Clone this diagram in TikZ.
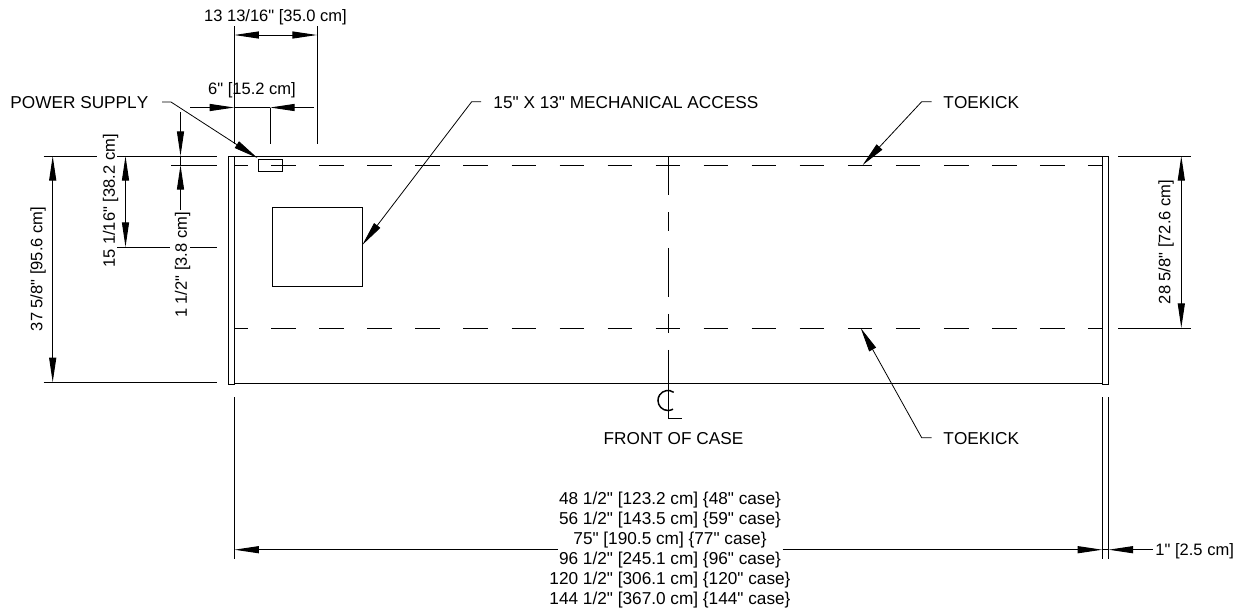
\documentclass[tikz,border=0pt]{standalone}
\usepackage{fontspec}
\newfontfamily\labelfont[Kerning=Off]{Liberation Sans}
\usetikzlibrary{arrows.meta}
\tikzstyle{every path}=[line width=0.55pt]
\tikzstyle{every node}=[inner sep=0pt, font=\labelfont\fontsize{9.4}{11.3}\selectfont]
\tikzstyle{note}=[font=\labelfont\fontsize{9.8}{11.8}\selectfont]
\tikzstyle{dimarrow}=[-{Triangle[length=14pt, width=4pt, sep=0pt]}]
\tikzstyle{leader}=[-{Triangle[length=14pt, width=4.4pt, sep=0pt]}, line width=0.45pt]
\tikzstyle{hiddenline}=[dash pattern=on 14.05pt off 13.29pt, dash phase=6.09pt]
\tikzstyle{centerline}=[dash pattern=on 27.9pt off 9.67pt on 10.8pt off 9.67pt, dash phase=5.69pt]

\begin{document}
\begin{tikzpicture}[x=0.02cm, y=-0.02cm]
            \useasboundingbox (0, 0) rectangle (1242, 610);

            % case outline
            \draw (234, 156) -- (1102.5, 156);
            \draw (234, 383.3) -- (1102.5, 383.3);
            \draw (228.5, 156) rectangle (234, 384.5);
            \draw (1102.5, 156) rectangle (1108.5, 384.5);
            \draw [hiddenline] (234, 165) -- (1102.5, 165);
            \draw [hiddenline] (234, 328) -- (1102.5, 328);
            \draw [centerline] (668.3, 156) -- (668.3, 390);
            \draw (258, 159.5) rectangle (282.7, 171.5);
            \draw (272, 207.7) rectangle (362.3, 286);

            % centerline mark
            \draw [line width=0.85pt] (673.7, 392.3) arc (-55:-180:10) arc (-180:-300:10);
            \draw [line width=0.85pt] (668.3, 390) -- (668.3, 418.3) -- (681.7, 418.3);
            \node (front) [note] at (673.5, 440.7) {\strut FRONT OF CASE};

            % top dimensions
            \draw (234.3, 26) -- (234.3, 144);
            \draw (317, 26) -- (317, 144);
            \draw (270, 107.5) -- (270, 144);
            \draw [dimarrow] (275, 35) -- (234.3, 35);
            \draw [dimarrow] (275, 35) -- (317, 35);
            \node (deep) at (275.5, 18) {\strut 13 13/16" [35.0 cm]};
            \draw [dimarrow] (190, 107.5) -- (234.3, 107.5);
            \draw (234.3, 107.5) -- (270, 107.5);
            \draw [dimarrow] (314, 107.5) -- (270, 107.5);
            \node (offset) at (252, 91) {\strut 6" [15.2 cm]};

            % left dimensions
            \draw (43.5, 156) -- (97, 156);
            \draw (117, 156) -- (217, 156);
            \draw (43.5, 382.3) -- (217, 382.3);
            \draw (117, 247) -- (170, 247);
            \draw (190, 247) -- (217, 247);
            \draw (171, 165) -- (217, 165);
            \draw [dimarrow] (52.7, 269) -- (52.7, 156);
            \draw [dimarrow] (52.7, 269) -- (52.7, 382.3);
            \node (overall) [rotate=90] at (38.5, 269) {\strut 37 5/8" [95.6 cm]};
            \draw [dimarrow] (125.5, 201) -- (125.5, 156);
            \draw [dimarrow] (125.5, 201) -- (125.5, 247);
            \node (access) [rotate=90] at (111, 201) {\strut 15 1/16" [38.2 cm]};
            \draw [dimarrow] (180.5, 112) -- (180.5, 156);
            \draw (180.5, 156) -- (180.5, 165);
            \draw [dimarrow] (180.5, 210) -- (180.5, 165);
            \node (inset) [rotate=90] at (183, 265) {\strut 1 1/2" [3.8 cm]};

            % right dimension
            \draw (1118.3, 156) -- (1190.7, 156);
            \draw (1118.3, 328) -- (1190.7, 328);
            \draw [dimarrow] (1181.3, 242) -- (1181.3, 156);
            \draw [dimarrow] (1181.3, 242) -- (1181.3, 328);
            \node (toekick) [rotate=90] at (1166.5, 242) {\strut 28 5/8" [72.6 cm]};

            % leaders
            \node (supply) [note, anchor=west] at (10, 104) {\strut POWER SUPPLY};
            \draw [leader] (162, 102) -- (171, 102) -- (257.5, 158);
            \node (mech) [note, anchor=west] at (493, 104) {\strut 15" X 13" MECHANICAL ACCESS};
            \draw [leader] (481, 101.7) -- (471.7, 101.7) -- (362.3, 245);
            \node (kicktop) [note, anchor=west] at (943, 104) {\strut TOEKICK};
            \draw [leader] (931.7, 101.7) -- (921.7, 101.7) -- (862.7, 165);
            \node (kickbot) [note, anchor=west] at (943, 440) {\strut TOEKICK};
            \draw [leader] (931.7, 437.7) -- (921.7, 437.7) -- (860.7, 328);

            % bottom dimensions
            \draw (234.3, 397) -- (234.3, 559);
            \draw (1102.3, 397) -- (1102.3, 559);
            \draw (1108.5, 397) -- (1108.5, 559);
            \draw [dimarrow] (558, 549.7) -- (234.3, 549.7);
            \draw [dimarrow] (782.7, 549.7) -- (1102.3, 549.7);
            \draw (1102.3, 549.7) -- (1108.5, 549.7);
            \draw [dimarrow] (1152.7, 549.7) -- (1108.5, 549.7);
            \node (side) [anchor=west] at (1155, 552) {\strut 1" [2.5 cm]};
            \node (caseA) [note] at (670, 500) {\strut 48 1/2" [123.2 cm] \{48" case\}};
            \node (caseB) [note] at (670, 520) {\strut 56 1/2" [143.5 cm] \{59" case\}};
            \node (caseC) [note] at (670, 540) {\strut 75" [190.5 cm] \{77" case\}};
            \node (caseD) [note] at (670, 560) {\strut 96 1/2" [245.1 cm] \{96" case\}};
            \node (caseE) [note] at (670, 580) {\strut 120 1/2" [306.1 cm] \{120" case\}};
            \node (caseF) [note] at (670, 600) {\strut 144 1/2" [367.0 cm] \{144" case\}};
\end{tikzpicture}
\end{document}
